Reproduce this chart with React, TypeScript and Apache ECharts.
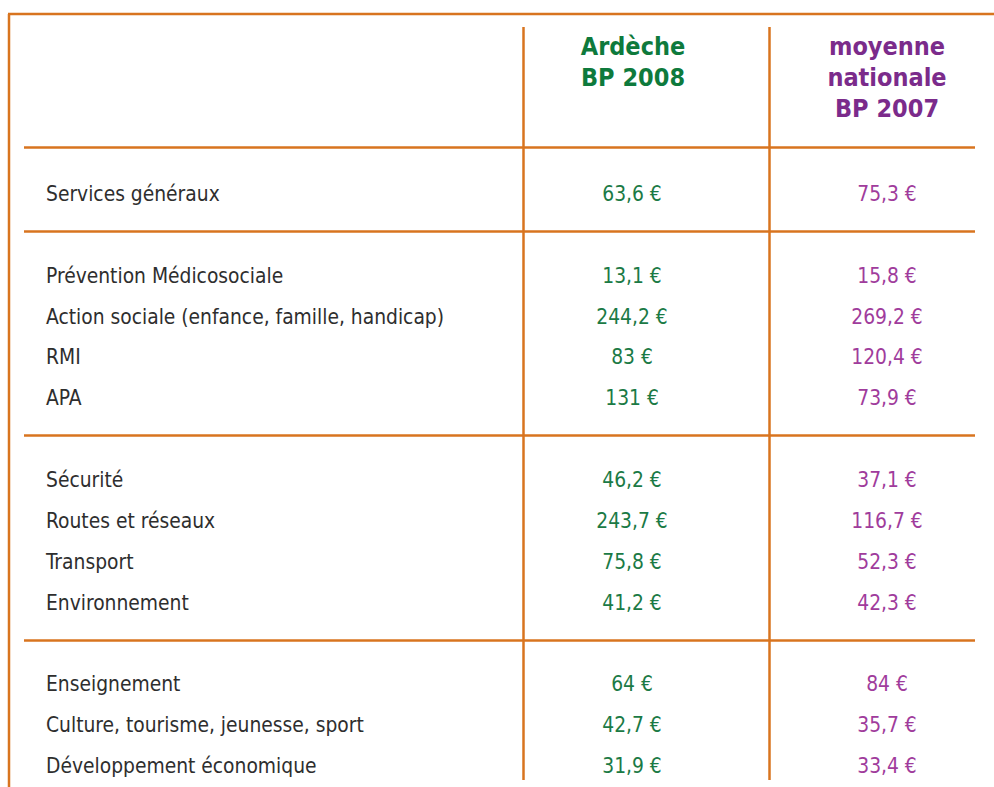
import React, { useEffect, useRef } from "react";
import * as echarts from "echarts";

// ---- data ----
const groups: number[] = [0, 1, 1, 1, 1, 2, 2, 2, 2, 3, 3, 3];
const categories: string[] = [
  "Services généraux",
  "Prévention Médicosociale",
  "Action sociale (enfance, famille, handicap)",
  "RMI",
  "APA",
  "Sécurité",
  "Routes et réseaux",
  "Transport",
  "Environnement",
  "Enseignement",
  "Culture, tourisme, jeunesse, sport",
  "Développement économique",
];
const ardeche2008: number[] = [63.6, 13.1, 244.2, 83, 131, 46.2, 243.7, 75.8, 41.2, 64, 42.7, 31.9];
const national2007: number[] = [75.3, 15.8, 269.2, 120.4, 73.9, 37.1, 116.7, 52.3, 42.3, 84, 35.7, 33.4];
const headerArdeche: string[] = ["Ardèche", "BP 2008"];
const headerNational: string[] = ["moyenne", "nationale", "BP 2007"];

// ---- styles ----
const ORANGE = "#D8741F";
const GREEN_H = "#0E7A3C";
const GREEN = "#1B7A45";
const PURPLE_H = "#7B2B8B";
const PURPLE = "#A03C9C";
const TEXT = "#2E2E2E";
const FONT = "'DejaVu Sans Condensed', 'Liberation Sans Narrow', sans-serif";

const fmt = (v: number) => String(v).replace(".", ",") + " €";

// slot index of each row: one blank slot between groups
const slots: number[] = categories.map((_, i) => i + groups[i]);
const gapSlots: number[] = [1, 2, 3].map((g) => slots[groups.indexOf(g)] - 1);

const COL_LABEL = 46;
const COL_A = 632;
const COL_N = 887;

export default function App() {
  const ref = useRef<HTMLDivElement>(null);
  useEffect(() => {
    if (!ref.current) return;
    const chart = echarts.init(ref.current, undefined, { renderer: "svg" });
    const labelBase = {
      show: true,
      position: "inside" as const,
      verticalAlign: "middle" as const,
      fontFamily: FONT,
      fontSize: 20.8,
      opacity: 1,
    };
    const baseSeries = {
      type: "scatter",
      symbolSize: 0,
      silent: true,
      itemStyle: { opacity: 1 },
      emphasis: { disabled: true },
    };
    chart.setOption({
      animation: false,
      grid: { left: 24, right: 19, top: 27, bottom: 7, containLabel: false },
      xAxis: { type: "value", min: 24, max: 975, show: false },
      yAxis: { type: "value", min: -4.087, max: 14.342, inverse: true, show: false },
      series: [
        {
          ...baseSeries,
          data: categories.map((c, i) => ({ value: [COL_LABEL, slots[i]], name: c })),
          label: { ...labelBase, align: "left", color: TEXT, formatter: (p: any) => p.name },
          markLine: {
            silent: true,
            symbol: "none",
            label: { show: false },
            lineStyle: { color: ORANGE, width: 2.5, type: "solid", opacity: 1 },
            data: [
              { yAxis: -1.15 },
              ...gapSlots.map((s) => ({ yAxis: s - 0.09 })),
              { xAxis: 523 },
              { xAxis: 769 },
            ],
          },
        },
        {
          ...baseSeries,
          data: ardeche2008.map((v, i) => [COL_A, slots[i], v]),
          label: { ...labelBase, align: "center", color: GREEN, formatter: (p: any) => fmt(p.value[2]) },
        },
        {
          ...baseSeries,
          data: national2007.map((v, i) => [COL_N, slots[i], v]),
          label: { ...labelBase, align: "center", color: PURPLE, formatter: (p: any) => fmt(p.value[2]) },
        },
      ],
      graphic: [
        { type: "line", shape: { x1: 8, y1: 14, x2: 994, y2: 14 }, style: { stroke: ORANGE, lineWidth: 2.5 } },
        { type: "line", shape: { x1: 9, y1: 14, x2: 9, y2: 787 }, style: { stroke: ORANGE, lineWidth: 2.5 } },
        ...headerArdeche.map((t, i) => ({
          type: "text",
          x: 633,
          y: 46 + i * 31,
          style: {
            text: t,
            fill: GREEN_H,
            font: `bold 25px ${FONT}`,
            textAlign: "center",
            textVerticalAlign: "middle",
          },
        })),
        ...headerNational.map((t, i) => ({
          type: "text",
          x: 887,
          y: 46 + i * 31,
          style: {
            text: t,
            fill: PURPLE_H,
            font: `bold 25px ${FONT}`,
            textAlign: "center",
            textVerticalAlign: "middle",
          },
        })),
      ],
    });
    return () => chart.dispose();
  }, []);
  return (
    <div
      ref={ref}
      style={{ position: "fixed", left: 0, top: 0, width: 994, height: 787, background: "#fff" }}
    />
  );
}
